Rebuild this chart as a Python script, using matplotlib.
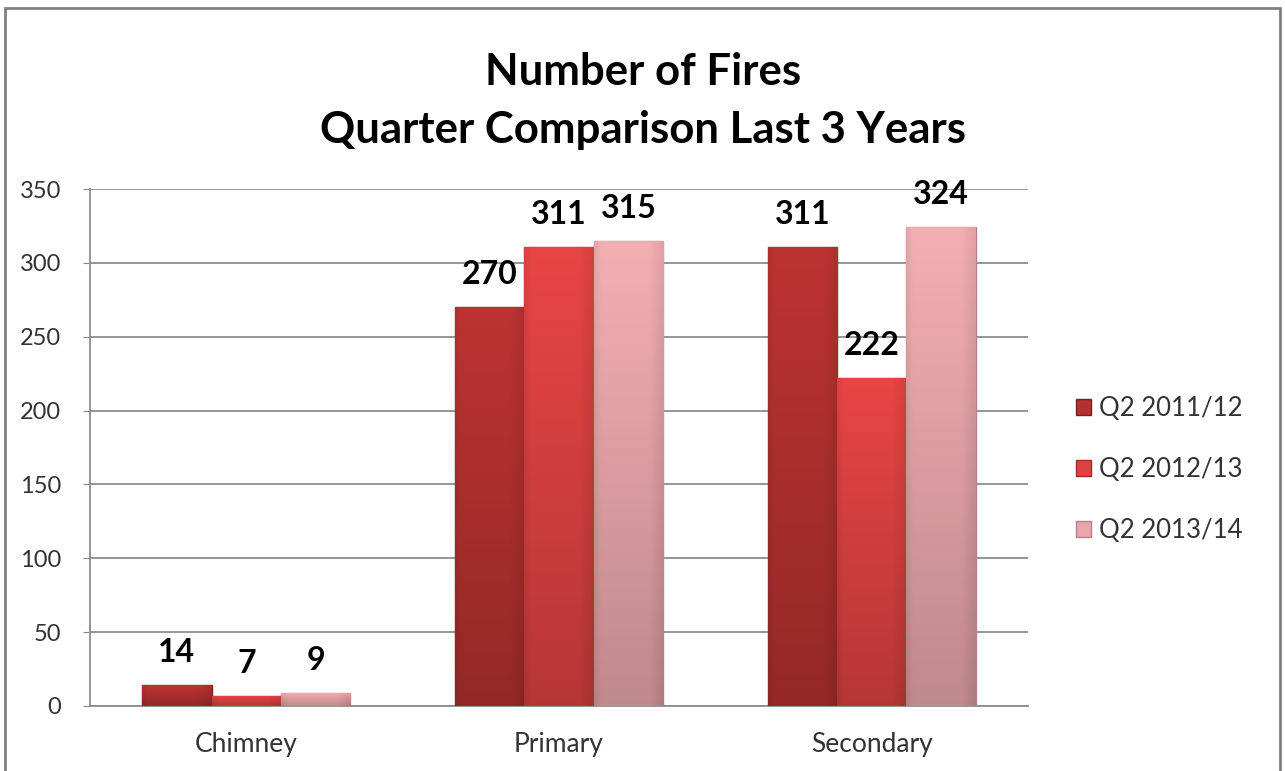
import matplotlib
matplotlib.use("Agg")
import matplotlib.pyplot as plt
import matplotlib.colors as mcolors
import numpy as np

categories = ["Chimney", "Primary", "Secondary"]
series_names = ["Q2 2011/12", "Q2 2012/13", "Q2 2013/14"]
q2_2011 = [14, 270, 311]
q2_2012 = [7, 311, 222]
q2_2013 = [9, 315, 324]
yticks = [0, 50, 100, 150, 200, 250, 300, 350]

colors = ["#B3312F", "#DC4241", "#E8A6AA"]
edges = ["#7A1E1C", "#A82A2A", "#B88088"]

plt.rcParams["font.family"] = ["Lato", "DejaVu Sans"]


def shade(color, ny=60, nx=30):
    # simple bevel look: lighter top, darker toward the base and right edge
    base = np.array(mcolors.to_rgb(color))
    ty = np.linspace(0, 1, ny)[:, None]
    tx = np.linspace(0, 1, nx)[None, :]
    f = 1.05 - 0.22 * ty - 0.08 * np.clip((tx - 0.8) / 0.2, 0, 1)
    f = f - 0.06 * np.clip((0.08 - tx) / 0.08, 0, 1)
    img = np.clip(base[None, None, :] * f[:, :, None], 0, 1)
    return img


fig = plt.figure(figsize=(12.85, 7.71), dpi=100)
ax = fig.add_axes([90 / 1285, 1 - 706 / 771, (1028 - 90) / 1285, (706 - 189) / 771])

x = np.arange(len(categories))
w = 0.222
for i, (vals, name) in enumerate(zip([q2_2011, q2_2012, q2_2013], series_names)):
    pos = x + (i - 1) * w
    bars = ax.bar(pos, vals, w, color=colors[i], edgecolor=edges[i], linewidth=1.0,
                  label=name, zorder=3)
    for b in bars:
        x0, y0 = b.get_x(), b.get_y()
        im = ax.imshow(shade(colors[i]), extent=[x0, x0 + b.get_width(), y0, y0 + b.get_height()],
                       aspect="auto", origin="upper", zorder=3.5, interpolation="bilinear")
        im.set_clip_path(b)
    for p, v in zip(pos, vals):
        ax.annotate(str(v), (p, v), xytext=(0, 13), textcoords="offset points",
                    ha="center", va="bottom", fontsize=23, fontweight="bold",
                    color="black")

ax.set_xlim(-0.5, 2.5)
ax.set_ylim(0, 350)
ax.set_yticks(yticks)
ax.set_xticks(x)
ax.set_xticklabels(categories, fontsize=19, color="#333333")
ax.tick_params(axis="y", labelsize=17, colors="#333333", length=5, color="#888888", pad=16)
ax.tick_params(axis="x", length=0, pad=19)
ax.grid(axis="y", color="#8c8c8c", linewidth=1.3, zorder=0)
for s in ["top", "right"]:
    ax.spines[s].set_visible(False)
ax.spines["left"].set_color("#8c8c8c")
ax.spines["left"].set_linewidth(1.3)
ax.spines["bottom"].set_color("#8c8c8c")
ax.spines["bottom"].set_linewidth(1.3)

fig.text(643 / 1285, 1 - 72 / 771, "Number of Fires", ha="center", va="center",
         fontsize=31.5, fontweight="bold")
fig.text(643 / 1285, 1 - 130 / 771, "Quarter Comparison Last 3 Years", ha="center",
         va="center", fontsize=31.5, fontweight="bold")

leg = ax.legend(loc="center left", bbox_to_anchor=(1.026, 0.457), frameon=False,
                fontsize=18.5, handlelength=0.6, handleheight=0.6, handletextpad=0.3,
                labelspacing=1.4)
for t in leg.get_texts():
    t.set_color("#333333")

# outer chart border
border = plt.Rectangle((5 / 1285, -0.05), 1275 / 1285, 1 - 8 / 771 + 0.05,
                       transform=fig.transFigure, fill=False, edgecolor="#808080",
                       linewidth=2)
fig.patches.append(border)

fig.savefig("out.png", dpi=100)
